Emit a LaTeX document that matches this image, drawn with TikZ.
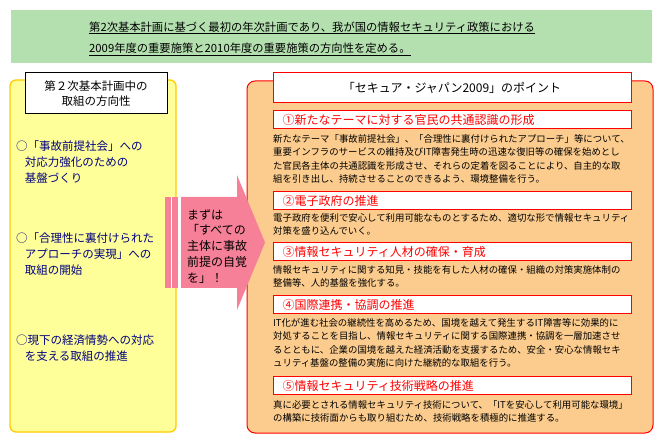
\documentclass[tikz,border=0pt]{standalone}
\usepackage{fontspec}
\setmainfont{Noto Sans CJK JP}
\definecolor{bannergreen}{RGB}{180,224,176}
\definecolor{panelyellow}{RGB}{255,255,153}
\definecolor{yellowedge}{RGB}{255,204,0}
\definecolor{panelorange}{RGB}{252,204,142}
\definecolor{arrowpink}{RGB}{246,128,152}
\definecolor{navytext}{RGB}{0,0,128}
\begin{document}
\begin{tikzpicture}[x=1pt,y=-1pt,
  bannertext/.style={anchor=base west, inner sep=0pt, font=\fontsize{11.3}{14}\selectfont},
  lefttext/.style={anchor=north west, inner sep=0pt, align=left, text=navytext, font=\fontsize{11.5}{16.3}\selectfont},
  bodytext/.style={anchor=north west, inner sep=0pt, align=left, font=\fontsize{9.4}{13.5}\selectfont},
  headbox/.style={draw=red, fill=white, line width=1pt, anchor=north west, minimum width=358pt, minimum height=18pt, text width=340pt, inner xsep=9pt, inner ysep=0pt, align=left, text=red, font=\fontsize{12}{14}\selectfont},
]
\useasboundingbox (0,0) rectangle (664,443);
% banner
\fill[bannergreen] (11,10) rectangle (652,63);
\node[bannertext] (b1) at (89,31.3) {第2次基本計画に基づく最初の年次計画であり、我が国の情報セキュリティ政策における};
\node[bannertext] (b2) at (89,52.6) {2009年度の重要施策と2010年度の重要施策の方向性を定める。};
\draw[line width=1pt] ([yshift=-2.2pt]b1.base west) -- ([yshift=-2.2pt]b1.base east);
\draw[line width=1pt] ([yshift=-3.4pt]b2.base west) -- ([yshift=-3.4pt]b2.base east);
% left panel
\draw[yellowedge, fill=panelyellow, line width=1.3pt, rounded corners=6pt] (10,80) rectangle (176,432);
\node[draw=black, fill=white, line width=1pt, minimum width=142pt, minimum height=41pt, align=center, font=\fontsize{11.5}{15}\selectfont] (lt) at (96,93.5) {第２次基本計画中の\\取組の方向性};
\node[lefttext] (l1) at (16,140.3) {○「事故前提社会」への\\\hspace*{0.75em}対応力強化のための\\\hspace*{0.75em}基盤づくり};
\node[lefttext] (l2) at (16,232.3) {○「合理性に裏付けられた\\\hspace*{0.75em}アプローチの実現」への\\\hspace*{0.75em}取組の開始};
\node[lefttext] (l3) at (16,334.3) {○現下の経済情勢への対応\\\hspace*{0.75em}を支える取組の推進};
% right panel
\draw[red, fill=panelorange, line width=1pt, rounded corners=8pt] (247,81) rectangle (653,433);
\node[draw=red, fill=white, line width=1pt, minimum width=358pt, minimum height=30pt, font=\fontsize{12}{14}\selectfont] (rt) at (452,88) {「セキュア・ジャパン2009」のポイント};
\node[headbox] (h1) at (273,110) {①新たなテーマに対する官民の共通認識の形成};
\node[bodytext] (t1) at (273,134.3) {新たなテーマ「事故前提社会」、「合理性に裏付けられたアプローチ」等について、\\重要インフラのサービスの維持及びIT障害発生時の迅速な復旧等の確保を始めとし\\た官民各主体の共通認識を形成させ、それらの定着を図ることにより、自主的な取\\組を引き出し、持続させることのできるよう、環境整備を行う。};
\node[headbox] (h2) at (273,191) {②電子政府の推進};
\node[bodytext] (t2) at (273,213.3) {電子政府を便利で安心して利用可能なものとするため、適切な形で情報セキュリティ\\対策を盛り込んでいく。};
\node[headbox] (h3) at (273,242) {③情報セキュリティ人材の確保・育成};
\node[bodytext] (t3) at (273,265.3) {情報セキュリティに関する知見・技能を有した人材の確保・組織の対策実施体制の\\整備等、人的基盤を強化する。};
\node[headbox] (h4) at (273,295) {④国際連携・協調の推進};
\node[bodytext] (t4) at (273,318.3) {IT化が進む社会の継続性を高めるため、国境を越えて発生するIT障害等に効果的に\\対処することを目指し、情報セキュリティに関する国際連携・協調を一層加速させ\\るとともに、企業の国境を越えた経済活動を支援するため、安全・安心な情報セキ\\ュリティ基盤の整備の実施に向けた継続的な取組を行う。};
\node[headbox] (h5) at (273,376) {⑤情報セキュリティ技術戦略の推進};
\node[bodytext] (t5) at (273,400.3) {真に必要とされる情報セキュリティ技術について、「ITを安心して利用可能な環境」\\の構築に技術面からも取り組むため、技術戦略を積極的に推進する。};
% arrow
\fill[white] (170,197) rectangle (181,288);
\fill[arrowpink] (165,197) rectangle (170.7,288);
\fill[arrowpink] (172.3,197) rectangle (178.3,288);
\fill[arrowpink] (181,197) -- (237,197) -- (237,175) -- (265,242.5) -- (237,310) -- (237,288) -- (181,288) -- cycle;
\node[anchor=north west, inner sep=0pt, align=left, font=\fontsize{12}{15.75}\selectfont] (at) at (187,209) {まずは\\「すべての\\主体に事故\\前提の自覚\\を」！};
\end{tikzpicture}
\end{document}
